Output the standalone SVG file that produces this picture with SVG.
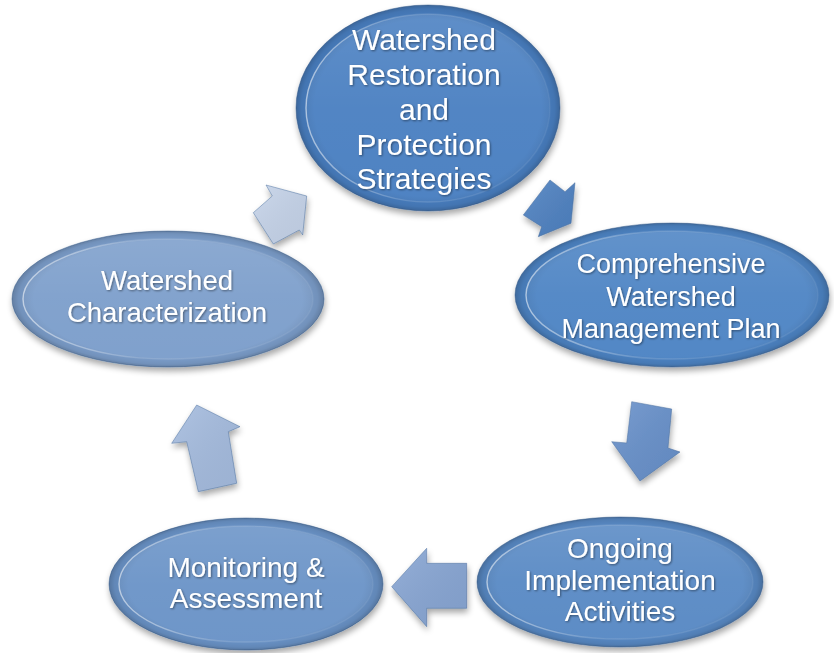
<svg xmlns="http://www.w3.org/2000/svg" width="834" height="653" viewBox="0 0 834 653">
  <defs>
    <!-- soft drop shadow under shapes -->
    <filter id="drop" x="-15%" y="-15%" width="130%" height="140%">
      <feGaussianBlur in="SourceAlpha" stdDeviation="3"/>
      <feOffset dx="1" dy="4" result="b"/>
      <feComponentTransfer in="b" result="s"><feFuncA type="linear" slope="0.35"/></feComponentTransfer>
      <feMerge><feMergeNode in="s"/><feMergeNode in="SourceGraphic"/></feMerge>
    </filter>
    <!-- faint shadow under label text -->
    <filter id="tshadow" x="-10%" y="-20%" width="120%" height="150%">
      <feGaussianBlur in="SourceAlpha" stdDeviation="1.2"/>
      <feOffset dx="0.5" dy="1.2" result="b"/>
      <feComponentTransfer in="b" result="s"><feFuncA type="linear" slope="0.45"/></feComponentTransfer>
      <feMerge><feMergeNode in="s"/><feMergeNode in="SourceGraphic"/></feMerge>
    </filter>
    <!-- darkened rim on the ellipses -->
    <radialGradient id="rimShade" cx="50%" cy="50%" r="50%">
      <stop offset="0.86" stop-color="#000" stop-opacity="0"/>
      <stop offset="0.96" stop-color="#000" stop-opacity="0.08"/>
      <stop offset="1" stop-color="#000" stop-opacity="0.2"/>
    </radialGradient>
    <!-- lighter inner face -->
    <linearGradient id="faceLight" x1="0" y1="0" x2="0" y2="1">
      <stop offset="0" stop-color="#fff" stop-opacity="0.12"/>
      <stop offset="0.5" stop-color="#fff" stop-opacity="0.05"/>
      <stop offset="1" stop-color="#fff" stop-opacity="0.03"/>
    </linearGradient>
    <!-- bevel edge highlight, brightest on the left -->
    <linearGradient id="ringLight" x1="0" y1="0" x2="1" y2="0">
      <stop offset="0" stop-color="#fff" stop-opacity="0.55"/>
      <stop offset="0.4" stop-color="#fff" stop-opacity="0.14"/>
      <stop offset="1" stop-color="#fff" stop-opacity="0.06"/>
    </linearGradient>
    <linearGradient id="arrowSheen" x1="0" y1="0" x2="1" y2="1">
      <stop offset="0" stop-color="#fff" stop-opacity="0.12"/>
      <stop offset="1" stop-color="#000" stop-opacity="0.05"/>
    </linearGradient>
  </defs>
  <style>
    .rim { stroke: #3d6597; stroke-width: 1; stroke-opacity: 0.5; }
    .shade { fill: url(#rimShade); }
    .face { fill: url(#faceLight); stroke: url(#ringLight); stroke-width: 1.4; }
    .lbl { fill: #ffffff; font-family: "Liberation Sans", Arial, sans-serif; text-anchor: middle; }
    .arrow { stroke: #4a6fa0; stroke-width: 1; stroke-opacity: 0.5; stroke-linejoin: round; }
    .sheen { fill: url(#arrowSheen); }
  </style>

  <rect width="834" height="653" fill="#ffffff"/>

  <!-- block arrows between the stages -->
  <g id="connectors">
    <g filter="url(#drop)">
      <polygon class="arrow" fill="#c6d4ea" points="266,185 272.3,196 253.3,212.7 273.3,244 299.3,230 302.7,235 306.7,196"/>
      <polygon class="sheen" points="266,185 272.3,196 253.3,212.7 273.3,244 299.3,230 302.7,235 306.7,196"/>
    </g>
    <g filter="url(#drop)">
      <polygon class="arrow" fill="#4f82c2" points="550,180 565,191.7 575,182.7 571,223.3 538.3,236.7 541.7,226.7 523.3,215"/>
      <polygon class="sheen" points="550,180 565,191.7 575,182.7 571,223.3 538.3,236.7 541.7,226.7 523.3,215"/>
    </g>
    <g filter="url(#drop)">
      <polygon class="arrow" fill="#6891cb" points="631.7,401.7 671.7,409 668,448 680,452 640,481 611.7,441.7 626.7,443"/>
      <polygon class="sheen" points="631.7,401.7 671.7,409 668,448 680,452 640,481 611.7,441.7 626.7,443"/>
    </g>
    <g filter="url(#drop)">
      <polygon class="arrow" fill="#88a6d4" points="466.7,563.3 466.7,608.3 426.7,608.3 426.7,626.7 391.7,586.7 426.7,548.3 426.7,563.3"/>
      <polygon class="sheen" points="466.7,563.3 466.7,608.3 426.7,608.3 426.7,626.7 391.7,586.7 426.7,548.3 426.7,563.3"/>
    </g>
    <g filter="url(#drop)">
      <polygon class="arrow" fill="#a5bcdf" points="196.7,405 240,426.7 228.3,431.7 236.7,483.3 198.3,491.7 186.7,441.7 171.7,443.3"/>
      <polygon class="sheen" points="196.7,405 240,426.7 228.3,431.7 236.7,483.3 198.3,491.7 186.7,441.7 171.7,443.3"/>
    </g>
  </g>

  <!-- stage: restoration and protection strategies -->
  <g id="node-strategies">
    <g filter="url(#drop)">
      <ellipse class="rim" cx="428" cy="108" rx="132" ry="103" fill="#4a7fc1"/>
    </g>
    <ellipse class="shade" cx="428" cy="108" rx="132" ry="103"/>
    <ellipse class="face" cx="428" cy="108" rx="122" ry="94"/>
    <g class="lbl" font-size="30" filter="url(#tshadow)">
      <text x="424" y="50">Watershed</text>
      <text x="424" y="85">Restoration</text>
      <text x="424" y="120">and</text>
      <text x="424" y="155">Protection</text>
      <text x="424" y="189">Strategies</text>
    </g>
  </g>

  <!-- stage: comprehensive management plan -->
  <g id="node-plan">
    <g filter="url(#drop)">
      <ellipse class="rim" cx="672" cy="295" rx="157" ry="72" fill="#4e84c4"/>
    </g>
    <ellipse class="shade" cx="672" cy="295" rx="157" ry="72"/>
    <ellipse class="face" cx="672" cy="295" rx="146" ry="64"/>
    <g class="lbl" font-size="27" filter="url(#tshadow)">
      <text x="671" y="273">Comprehensive</text>
      <text x="671" y="306">Watershed</text>
      <text x="671" y="338">Management Plan</text>
    </g>
  </g>

  <!-- stage: ongoing implementation -->
  <g id="node-implementation">
    <g filter="url(#drop)">
      <ellipse class="rim" cx="620" cy="582" rx="143" ry="65" fill="#5889c4"/>
    </g>
    <ellipse class="shade" cx="620" cy="582" rx="143" ry="65"/>
    <ellipse class="face" cx="620" cy="582" rx="133" ry="57"/>
    <g class="lbl" font-size="28" filter="url(#tshadow)">
      <text x="620" y="558">Ongoing</text>
      <text x="620" y="590">Implementation</text>
      <text x="620" y="621">Activities</text>
    </g>
  </g>

  <!-- stage: monitoring and assessment -->
  <g id="node-monitoring">
    <g filter="url(#drop)">
      <ellipse class="rim" cx="246" cy="584" rx="137" ry="66" fill="#6a93c7"/>
    </g>
    <ellipse class="shade" cx="246" cy="584" rx="137" ry="66"/>
    <ellipse class="face" cx="246" cy="584" rx="127" ry="58"/>
    <g class="lbl" font-size="28" filter="url(#tshadow)">
      <text x="246" y="577">Monitoring &amp;</text>
      <text x="246" y="608">Assessment</text>
    </g>
  </g>

  <!-- stage: watershed characterization -->
  <g id="node-characterization">
    <g filter="url(#drop)">
      <ellipse class="rim" cx="168" cy="299" rx="156" ry="68" fill="#7c9ecb"/>
    </g>
    <ellipse class="shade" cx="168" cy="299" rx="156" ry="68"/>
    <ellipse class="face" cx="168" cy="299" rx="145" ry="60"/>
    <g class="lbl" font-size="27.5" filter="url(#tshadow)">
      <text x="167" y="290">Watershed</text>
      <text x="167" y="322">Characterization</text>
    </g>
  </g>
</svg>
